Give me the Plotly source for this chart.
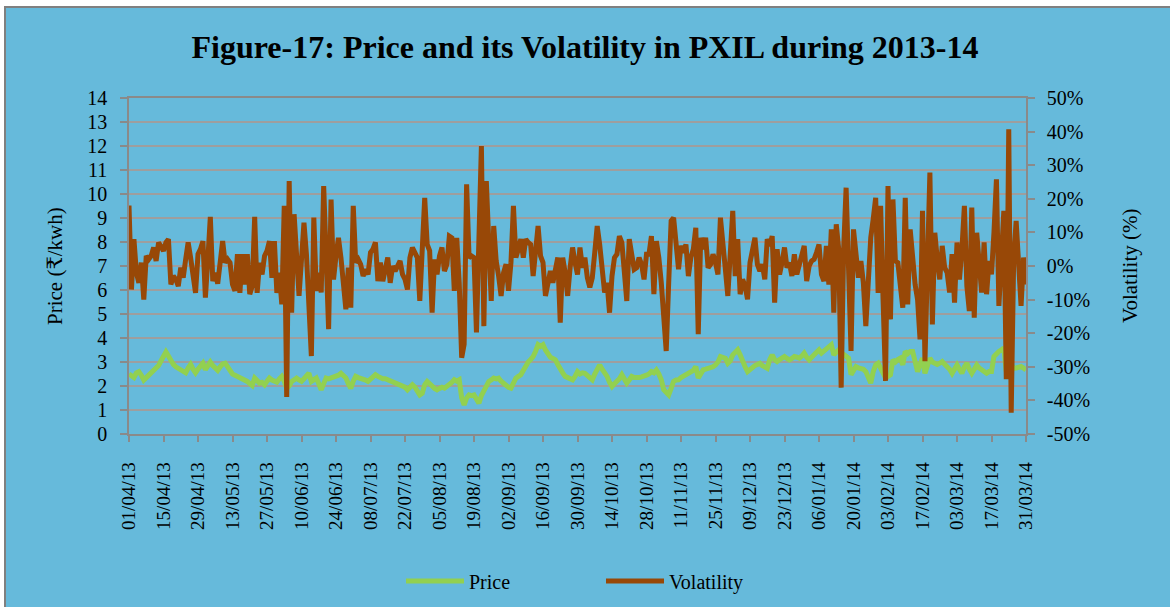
import pandas as pd
import plotly.graph_objects as go

# ---------------- data ----------------
start_date = "2013-04-01"
end_date = "2014-03-31"

# daily price (Rs/kWh), split by period
price_apr_may = [2.5, 2.4, 2.35, 2.55, 2.6, 2.45, 2.25, 2.35, 2.45, 2.5,
                 2.6, 2.7, 2.85, 3.05, 3.25, 3.42, 3.25, 3.05, 2.9, 2.8,
                 2.74, 2.7, 2.6, 2.55, 2.75, 2.9, 2.7, 2.55, 2.7, 2.85,
                 2.95, 2.68, 2.85, 3.0, 2.85, 2.75, 2.65, 2.8, 2.92, 2.95,
                 2.8, 2.6, 2.5, 2.45, 2.4, 2.35, 2.33, 2.25, 2.19, 2.1,
                 2.02, 2.33, 2.25, 2.12, 2.15, 2.05, 2.2, 2.33, 2.25, 2.19,
                 2.16]
price_jun_jul = [2.3, 2.4, 2.2, 1.9, 2.0, 2.19, 2.25, 2.33, 2.25, 2.19,
                 2.3, 2.45, 2.53, 2.19, 2.25, 2.33, 2.1, 1.84, 2.1, 2.33,
                 2.3, 2.33, 2.35, 2.4, 2.45, 2.53, 2.45, 2.33, 2.1, 1.9,
                 2.2, 2.4, 2.35, 2.33, 2.3, 2.25, 2.19, 2.3, 2.4, 2.47,
                 2.4, 2.33, 2.3, 2.3, 2.26, 2.2, 2.15, 2.12, 2.1, 2.05,
                 2.0, 1.95, 1.84, 1.95, 2.05, 1.95, 1.8, 1.63, 1.7, 2.05,
                 2.19]
price_aug_sep = [2.12, 2.0, 1.9, 1.84, 1.9, 1.95, 1.91, 1.98, 2.05, 2.15,
                 2.26, 2.2, 2.26, 1.5, 1.21, 1.5, 1.63, 1.6, 1.63, 1.45,
                 1.28, 1.6, 1.77, 2.0, 2.19, 2.25, 2.33, 2.3, 2.33, 2.2,
                 2.1, 1.98, 1.95, 1.91, 2.1, 2.33, 2.4, 2.47, 2.65, 2.88,
                 3.0, 3.1, 3.23, 3.45, 3.72, 3.65, 3.72, 3.5, 3.3, 3.2,
                 3.15, 3.09, 2.9, 2.67, 2.55, 2.4, 2.35, 2.3, 2.26, 2.4,
                 2.6, 2.5]
price_oct_nov = [2.55, 2.53, 2.45, 2.35, 2.26, 2.5, 2.7, 2.88, 2.7, 2.55,
                 2.4, 2.15, 1.98, 2.1, 2.19, 2.3, 2.47, 2.3, 2.12, 2.25,
                 2.4, 2.35, 2.33, 2.35, 2.38, 2.4, 2.45, 2.5, 2.6, 2.55,
                 2.67, 2.5, 2.26, 1.84, 1.7, 1.63, 1.9, 2.19, 2.25, 2.26,
                 2.35, 2.4, 2.47, 2.5, 2.6, 2.65, 2.81, 2.33, 2.5, 2.67,
                 2.7, 2.72, 2.74, 2.8, 2.88, 3.0, 3.23, 3.2, 3.16, 2.95]
price_dec_jan = [3.05, 3.3, 3.45, 3.51, 3.3, 3.0, 2.8, 2.6, 2.7, 2.81,
                 2.85, 2.9, 2.95, 2.85, 2.8, 2.74, 3.1, 3.3, 3.1, 3.02,
                 3.1, 3.15, 3.23, 3.15, 3.09, 3.15, 3.23, 3.2, 3.16, 3.25,
                 3.37, 3.2, 3.09, 3.2, 3.3, 3.4, 3.51, 3.37, 3.45, 3.51,
                 3.6, 3.72, 3.3, 3.4, 3.51, 3.4, 3.3, 3.25, 3.16, 2.47,
                 2.7, 2.81, 2.75, 2.74, 2.7, 2.6, 2.3, 2.12, 2.6, 2.88,
                 2.95]
price_feb_mar = [2.7, 2.5, 2.33, 2.4, 2.47, 3.09, 3.0, 3.1, 3.16, 2.88,
                 3.44, 3.35, 3.44, 3.44, 3.1, 2.6, 2.9, 3.16, 2.53, 2.9,
                 3.16, 3.0, 2.95, 2.9, 2.95, 3.02, 2.9, 2.81, 2.7, 2.53,
                 2.7, 2.88, 2.7, 2.53, 2.8, 2.95, 2.7, 2.53, 2.7, 2.88,
                 2.75, 2.67, 2.6, 2.53, 2.6, 2.6, 3.23, 3.35, 3.44, 3.5,
                 3.58, 2.6, 3.09, 2.9, 2.74, 2.75, 2.8, 2.81, 2.75, 2.67]

# daily volatility (%), split by period
vol_apr_may = [18, -7, 8, -2, -5, 1, -10, 3, 2, 3,
               5.5, 1.5, 7, 6, 4.5, 7, 8, -5.5, -3, -4,
               -6, -0.5, -3.5, 2, 7, 2.5, -3, -8, 3.5, 5,
               7.4, -9.4, 2, 14.6, -4.5, -2, -5.3, 2, 7.4, 1,
               2, 1, -5.5, -7.4, 3.5, -8, 3.5, -5.5, 3.5, -8.4,
               -6, 14.6, -8, 1, -2.5, 3, 4.5, 7.4, -3.5, 7.4,
               -8]
vol_jun_jul = [-2, -11.4, 17.9, -39, 25.3, -13.9, 15.4, 0.5, -8.9, 2,
               12.9, 3.5, -10, -26.8, 14.4, -7.4, -2, -7.9, 23.8, -4.5,
               -18.8, 19.8, -4, 3, 8.4, 2.5, -5, -12.9, -0.5, -12.4,
               17.9, 1, 2, 0.5, -3, -1, -2.5, 4, 5, 7,
               -4.5, 1, -4.5, -1, 2.5, -5, 0, -1.5, 0, 1.5,
               -2.5, -4, -7, 2.5, 5.5, 4, 2.5, -10.4, 3, 20.3,
               6.4]
vol_aug_sep = [4.5, -13.9, 2, -2.5, 3, 5.5, -1.5, 0.5, 8.9, 8.4,
               -7.4, 8.4, -5, -27.3, -23.3, 24.3, 2.5, 3, 2.5, -19.8,
               10, 35.7, -17.9, 25.3, 7, -10.4, 11.9, 1.5, -3, -8.9,
               -2, 0.5, -7.4, 1, 17.9, 2.5, 5, 8, 2.5, 8,
               7, 6.4, -3, 5.5, 11.9, 3, 1, -8.9, -4, -1.5,
               -5, 0, 2.5, -16.9, 2.5, -2, -8.9, -0.5, 5.5, 1,
               -2.5, 5.5]
vol_oct_nov = [-0.5, 2.5, -3.5, -6.4, -3.5, 4, 11.9, 6.4, -3, -7.9,
               -5, -13.9, -3, 2.5, 3.5, 8.9, 7, -2, -10.4, 8,
               2, -1, -0.5, 2.5, 0.5, -4, 3.5, 3.5, 8.9, -8.4,
               7.4, 2.5, -5, -15, -25.3, -5, 13.4, 14.4, 5, -1,
               6, 4, 6.4, -3, 2.5, 5, 11.4, -20.3, 8.4, 5,
               8.4, -0.5, 0.5, 3.5, 1, -2.5, 14.4, 4.5, -1, -8.9]
vol_dec_jan = [5, 16.4, -3, 8, -8.4, -4, -6, -9.9, 1, 4,
               8.4, 0.5, -1.5, 0.5, -4, 8, 6, 8.9, -10.9, 5,
               -2.5, 1, 5.5, -0.5, 1, -3, 3.5, -2.5, 0, 3,
               6, -4.5, 0, 1.5, 2, 4, 6.4, -2.5, -4.5, 6,
               -5.5, 10.9, -13.9, 12.4, 5, -36.2, 5, 23.3, 0, -25.3,
               10.9, 2.5, -3.5, 1.5, -5, -17.9, -5, 8.4, 14, 20.3,
               -8]
vol_feb_mar = [17.9, -10, -34.2, 23.8, -15.9, 19.8, 1.5, 1, -5, -12.4,
               20.3, -11.4, 10.9, 2, -5.5, -10, -21.8, 16.4, -28.3, 0,
               27.8, -17.4, 9.9, 2, -4, 6, -0.5, -2, -7.9, 3.5,
               -10.9, 7, -4, 5, 17.9, -6, -13.4, 17.4, -15.4, 9.9,
               1, -7.9, 7, -8.4, 1.5, -2.5, 10, 25.8, -11.9, 5,
               16.4, -33.7, 40.7, -43.7, 2, 13.4, 0, -11.9, 2.5, -5.5]

price_ticks = list(range(0, 15))
vol_ticks = list(range(-50, 51, 10))
vol_tick_text = [f"{v}%" for v in vol_ticks]

price = (price_apr_may + price_jun_jul + price_aug_sep +
         price_oct_nov + price_dec_jan + price_feb_mar)
volatility = (vol_apr_may + vol_jun_jul + vol_aug_sep +
              vol_oct_nov + vol_dec_jan + vol_feb_mar)
dates_price = pd.date_range(start_date, periods=len(price), freq="D")
dates_vol = pd.date_range(start_date, periods=len(volatility), freq="D")

# ---------------- figure ----------------
W, H = 1170, 607
L, R, T, B = 129, 144, 98, 173
PW, PH = W - L - R, H - T - B
FONT = "Liberation Serif, Times New Roman, DejaVu Serif, serif"
BLUE = "#66BADB"
GRID = "#9E9E9E"
AXIS = "#8A8A8A"


def px(xp):
    return (xp - L) / PW


def py(yp):
    return (H - B - yp) / PH


fig = go.Figure()
fig.add_trace(go.Scatter(x=dates_price, y=price, name="Price", mode="lines",
                         line=dict(color="#92D050", width=5), yaxis="y"))
fig.add_trace(go.Scatter(x=dates_vol, y=volatility, name="Volatility", mode="lines",
                         line=dict(color="#984807", width=5), yaxis="y2"))

fig.update_layout(
    width=W, height=H,
    margin=dict(l=L, r=R, t=T, b=B, autoexpand=False),
    paper_bgcolor="white",
    plot_bgcolor="white",
    font=dict(family=FONT, size=20, color="black"),
    title=dict(text="<b>Figure-17: Price and its Volatility in PXIL during 2013-14</b>",
               x=0.5, xanchor="center", y=1 - 47 / H, yanchor="middle",
               font=dict(family=FONT, size=32, color="black")),
    xaxis=dict(type="date", range=[start_date, end_date],
               tick0=start_date, dtick=14 * 86400000, tickformat="%d/%m/%y",
               tickangle=-90, ticks="outside", ticklen=6, tickwidth=1.5, tickcolor=AXIS,
               showline=True, linecolor=AXIS, linewidth=1.5, mirror=True,
               showgrid=False, zeroline=False, ticklabelstandoff=13,
               tickfont=dict(family=FONT, size=19)),
    yaxis=dict(range=[0, 14], tickvals=price_ticks, ticks="outside", ticklen=7,
               tickwidth=1.5, tickcolor=AXIS, showline=True, linecolor=AXIS,
               linewidth=1.5, showgrid=True, gridcolor=GRID, gridwidth=2,
               zeroline=False, ticklabelstandoff=9,
               tickfont=dict(family=FONT, size=20)),
    yaxis2=dict(range=[-50, 50], tickvals=vol_ticks, ticktext=vol_tick_text,
                overlaying="y", side="right", ticks="outside", ticklen=7,
                tickwidth=1.5, tickcolor=AXIS, showline=True, linecolor=AXIS,
                linewidth=1.5, showgrid=False, zeroline=False, ticklabelstandoff=8,
                tickfont=dict(family=FONT, size=20)),
    showlegend=True,
    legend=dict(orientation="h", x=px(401), xanchor="left", y=py(581), yanchor="middle",
                font=dict(family=FONT, size=20), itemwidth=58, entrywidth=127,
                bgcolor="rgba(0,0,0,0)"),
    annotations=[
        dict(text="Price (₹/kwh)", textangle=-90, xref="paper", yref="paper",
             x=px(55), y=0.5, xanchor="center", yanchor="middle", showarrow=False,
             font=dict(family=FONT, size=21)),
        dict(text="Volatility (%)", textangle=-90, xref="paper", yref="paper",
             x=px(1130), y=0.5, xanchor="center", yanchor="middle", showarrow=False,
             font=dict(family=FONT, size=21)),
    ],
    shapes=[
        # blue chart background with grey border (outside plot area)
        dict(type="rect", xref="paper", yref="paper", layer="below",
             x0=px(5), x1=px(W + 10), y0=py(H + 10), y1=py(7),
             fillcolor=BLUE, line=dict(color="#808080", width=2)),
    ],
)

fig.write_html("out.html", config={"displayModeBar": False},
               post_script="document.body.style.margin='0';document.body.style.overflow='hidden';")
